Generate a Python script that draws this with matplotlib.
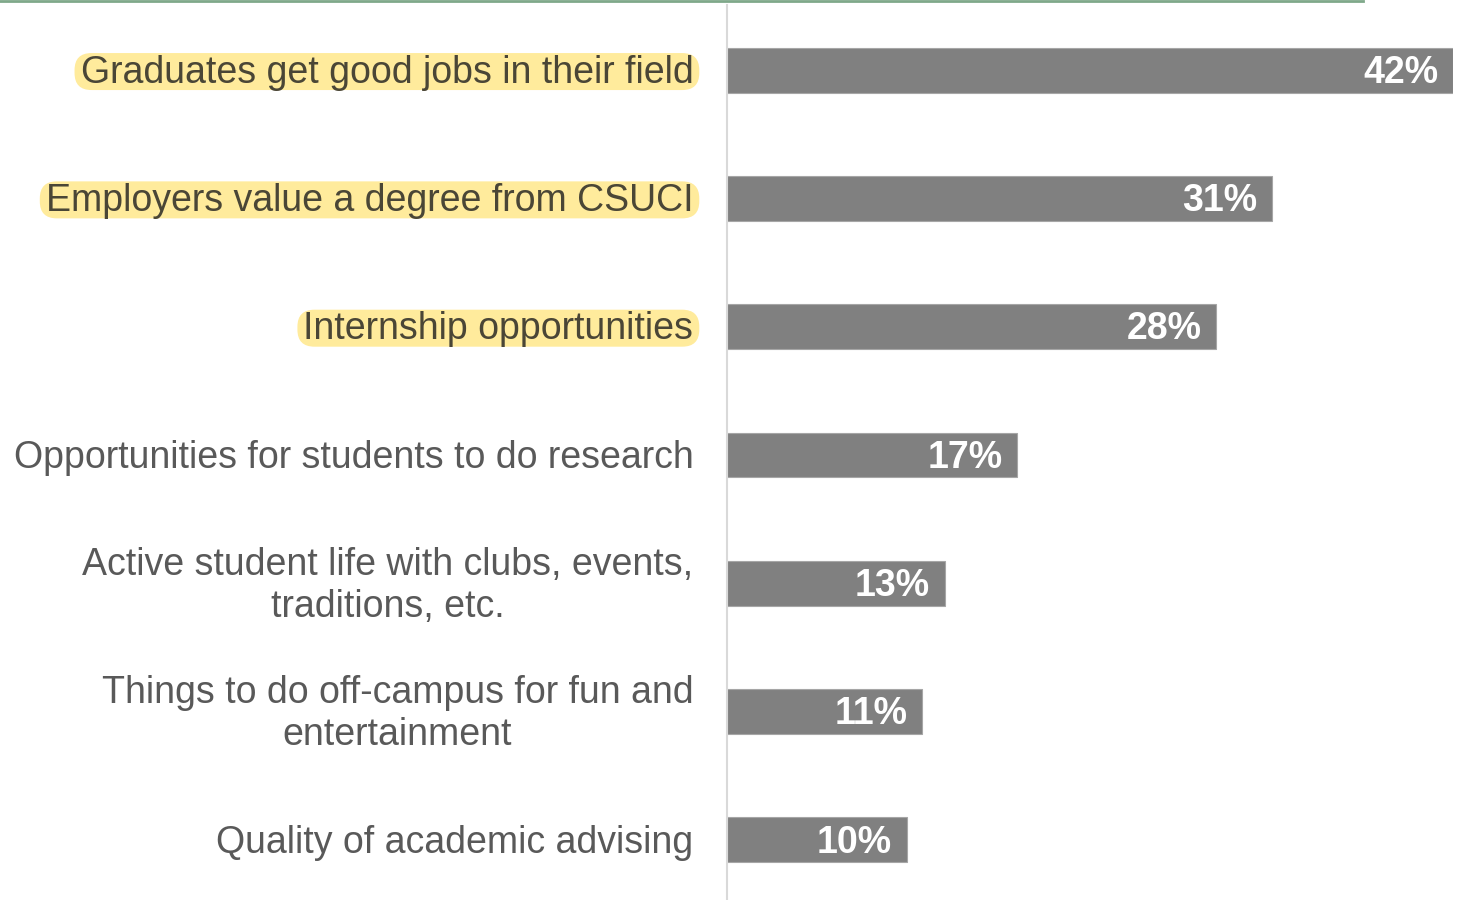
import matplotlib
matplotlib.use("Agg")
import matplotlib.pyplot as plt
from matplotlib.lines import Line2D
from matplotlib.patches import FancyBboxPatch
from matplotlib.transforms import IdentityTransform

plt.rcParams["font.family"] = ["Liberation Sans", "DejaVu Sans"]

categories = [
    "Graduates get good jobs in their field",
    "Employers value a degree from CSUCI",
    "Internship opportunities",
    "Opportunities for students to do research",
    "Active student life with clubs, events,\ntraditions, etc.",
    "Things to do off-campus for fun and\nentertainment",
    "Quality of academic advising",
]
values = [42.0, 31.5, 28.3, 16.8, 12.6, 11.3, 10.4]
value_labels = ["42%", "31%", "28%", "17%", "13%", "11%", "10%"]
highlighted = [True, True, True, False, False, False, False]

W, H = 1465, 900
fig = plt.figure(figsize=(W / 100, H / 100), dpi=100)
ax = fig.add_axes([727 / W, 0, (1453 - 727) / W, 1 - 5 / H])

pos = list(range(len(categories)))
ax.barh(pos, values, height=0.35, color="#808080", edgecolor="#a6a6a6", linewidth=0.8)
ax.set_xlim(0, 42)
ax.set_ylim(6.468, -0.507)

for i, (v, lab) in enumerate(zip(values, value_labels)):
    ax.text(v - 0.85, i + 0.02, lab, ha="right", va="center", color="white",
            fontsize=27, fontweight="bold")

label_texts = []
for i, (cat, hl) in enumerate(zip(categories, highlighted)):
    t = ax.text(-1.95, i + 0.02, cat, ha="right", va="center", multialignment="center",
                color="#4a4636" if hl else "#595959", fontsize=27,
                linespacing=1.22, zorder=3)
    label_texts.append(t)

for s in ["top", "right", "bottom"]:
    ax.spines[s].set_visible(False)
ax.spines["left"].set_color("#d9d9d9")
ax.spines["left"].set_linewidth(1.5)
ax.set_xticks([])
ax.set_yticks([])

fig.add_artist(Line2D([0, 1363 / W], [1 - 0.5 / H, 1 - 0.5 / H],
                      color="#7fa88a", linewidth=2, transform=fig.transFigure))

# yellow highlight behind the key reasons, sized from the rendered text
fig.canvas.draw()
renderer = fig.canvas.get_renderer()
box_h = 37
for i, (t, hl) in enumerate(zip(label_texts, highlighted)):
    if not hl:
        continue
    bb = t.get_window_extent(renderer)
    yc = ax.transData.transform((0, i))[1] - 1.5
    patch = FancyBboxPatch((bb.x0 - 6, yc - box_h / 2), bb.width + 12, box_h,
                           boxstyle="round,pad=0,rounding_size=17",
                           fc="#ffeb9c", ec="none", transform=IdentityTransform(),
                           clip_on=False, zorder=2)
    ax.add_artist(patch)

fig.savefig("out.png", dpi=100)
